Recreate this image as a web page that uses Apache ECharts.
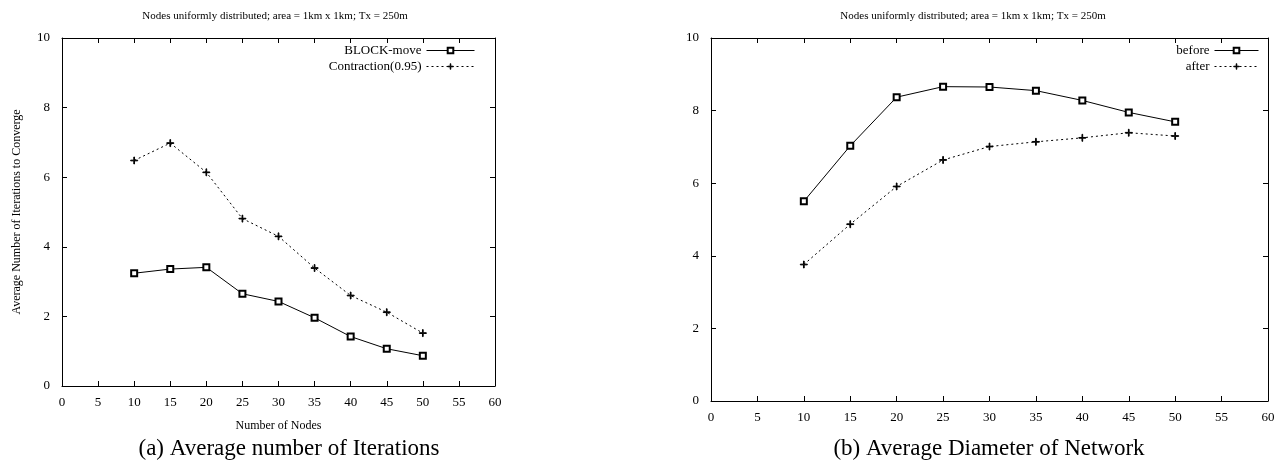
<!DOCTYPE html>
<html>
<head>
<meta charset="utf-8">
<script src="https://cdn.jsdelivr.net/npm/echarts@6/dist/echarts.min.js"></script>
<style>
  html, body { margin: 0; padding: 0; background: #fff; }
  #chart { width: 1286px; height: 463px; }
</style>
</head>
<body>
<div id="chart"></div>
<script>
// nodes on the x axis, both panels
const nodes = [10, 15, 20, 25, 30, 35, 40, 45, 50];

// (a) iterations to converge
const blockMove = [3.24, 3.36, 3.41, 2.65, 2.43, 1.96, 1.42, 1.07, 0.87];
const contraction = [6.48, 6.98, 6.14, 4.81, 4.30, 3.39, 2.60, 2.12, 1.52];

// (b) network diameter
const before = [5.50, 7.03, 8.37, 8.66, 8.65, 8.55, 8.28, 7.95, 7.69];
const after = [3.76, 4.87, 5.91, 6.64, 7.01, 7.14, 7.25, 7.39, 7.30];

const plotTitle = 'Nodes uniformly distributed; area = 1km x 1km; Tx = 250m';
const serif = '"Liberation Serif", "DejaVu Serif", serif';
const plus = 'path://M-0.5,-5H0.5V-0.5H5V0.5H0.5V5H-0.5V0.5H-5V-0.5H-0.5Z';

const pairs = (ys) => nodes.map((x, i) => [x, ys[i]]);

function xAxes(grid, pos, withLabels, name) {
  return {
    type: 'value', gridIndex: grid, position: pos,
    min: 0, max: 60, interval: 5,
    name: name || '', nameLocation: 'middle', nameGap: 34,
    nameTextStyle: { fontFamily: serif, fontSize: 12, color: '#000' },
    axisLine: { show: true, onZero: false, lineStyle: { color: '#000', width: 1 } },
    axisTick: { show: true, inside: true, length: 5, lineStyle: { color: '#000' } },
    axisLabel: { show: withLabels, fontFamily: serif, fontSize: 13, color: '#000', margin: 10 },
    splitLine: { show: false }
  };
}

function yAxes(grid, pos, withLabels, name) {
  return {
    type: 'value', gridIndex: grid, position: pos,
    min: 0, max: 10, interval: 2,
    name: name || '', nameLocation: 'middle', nameGap: 39,
    nameTextStyle: { fontFamily: serif, fontSize: 12, color: '#000' },
    axisLine: { show: true, onZero: false, lineStyle: { color: '#000', width: 1 } },
    axisTick: { show: true, inside: true, length: 5, lineStyle: { color: '#000' } },
    axisLabel: { show: withLabels, fontFamily: serif, fontSize: 13, color: '#000', margin: 12 },
    splitLine: { show: false }
  };
}

function lineSeries(name, data, grid, dotted, symbol) {
  return {
    name: name, type: 'line', data: data,
    xAxisIndex: grid * 2, yAxisIndex: grid * 2,
    symbol: symbol, symbolSize: symbol === 'emptyRect' ? 6 : 7,
    showAllSymbol: true,
    lineStyle: { color: '#000', width: 1, type: dotted ? [2, 3] : 'solid' },
    itemStyle: { color: '#000', borderColor: '#000', borderWidth: 1 },
    emphasis: { disabled: true },
    animation: false
  };
}

function legendBox(names, right, width) {
  return {
    data: names,
    right: right, top: 39, orient: 'vertical', align: 'right',
    itemWidth: width, itemHeight: 7, itemGap: 3,
    lineStyle: { width: 1 },
    itemStyle: { borderWidth: 1 },
    textStyle: { fontFamily: serif, fontSize: 13, color: '#000' },
    selectedMode: false
  };
}

const chart = echarts.init(document.getElementById('chart'), null, { renderer: 'canvas' });

chart.setOption({
  backgroundColor: '#fff',
  animation: false,
  title: [
    { text: plotTitle, left: 270, top: 6, textAlign: 'center',
      textStyle: { fontFamily: serif, fontSize: 11, fontWeight: 'normal', color: '#000' } },
    { text: plotTitle, left: 968, top: 6, textAlign: 'center',
      textStyle: { fontFamily: serif, fontSize: 11, fontWeight: 'normal', color: '#000' } },
    { text: '(a) Average number of Iterations', left: 284, top: 432, textAlign: 'center',
      textStyle: { fontFamily: serif, fontSize: 23, fontWeight: 'normal', color: '#000' } },
    { text: '(b) Average Diameter of Network', left: 984, top: 432, textAlign: 'center',
      textStyle: { fontFamily: serif, fontSize: 23, fontWeight: 'normal', color: '#000' } }
  ],
  grid: [
    { left: 62, right: 791, top: 38, bottom: 77 },
    { left: 711, right: 18, top: 38, bottom: 62 }
  ],
  legend: [
    legendBox(['BLOCK-move', 'Contraction(0.95)'], 806, 48),
    legendBox(['before', 'after'], 22, 44)
  ],
  xAxis: [
    xAxes(0, 'bottom', true, 'Number of Nodes'),
    xAxes(0, 'top', false),
    xAxes(1, 'bottom', true),
    xAxes(1, 'top', false)
  ],
  yAxis: [
    yAxes(0, 'left', true, 'Average Number of Iterations to Converge'),
    yAxes(0, 'right', false),
    yAxes(1, 'left', true),
    yAxes(1, 'right', false)
  ],
  series: [
    lineSeries('BLOCK-move', pairs(blockMove), 0, false, 'emptyRect'),
    lineSeries('Contraction(0.95)', pairs(contraction), 0, true, plus),
    lineSeries('before', pairs(before), 1, false, 'emptyRect'),
    lineSeries('after', pairs(after), 1, true, plus)
  ]
});
</script>
</body>
</html>
